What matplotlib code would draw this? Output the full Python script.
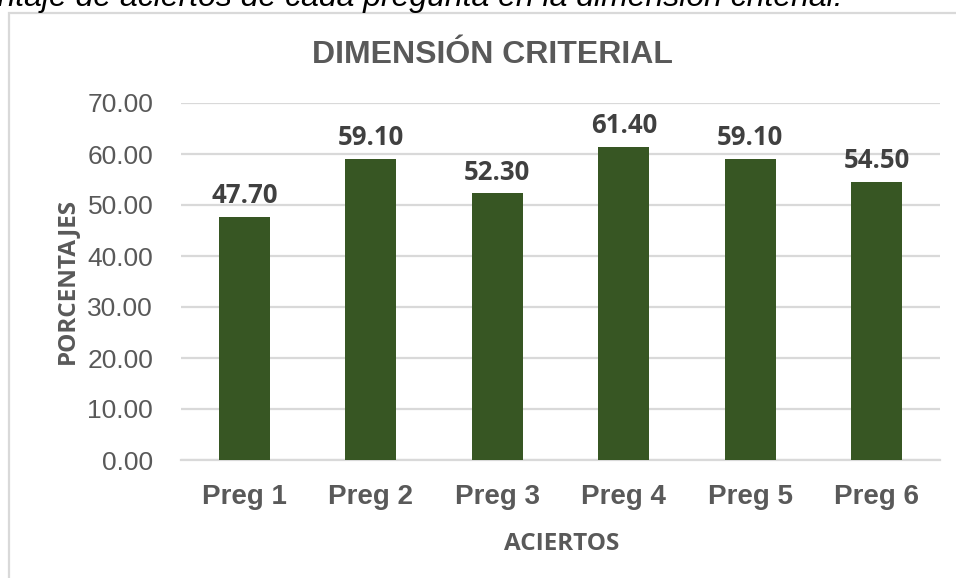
import matplotlib
matplotlib.use("Agg")
import matplotlib.pyplot as plt
from matplotlib.patches import Rectangle
from matplotlib import font_manager

categories = ["Preg 1", "Preg 2", "Preg 3", "Preg 4", "Preg 5", "Preg 6"]
values = [47.70, 59.10, 52.30, 61.40, 59.10, 54.50]
yticks = [0, 10, 20, 30, 40, 50, 60, 70]
title = "DIMENSIÓN CRITERIAL"
ylabel = "PORCENTAJES"
xlabel = "ACIERTOS"
caption = "Porcentaje de aciertos de cada pregunta en la dimensión criterial."

# choose a Calibri-like family that really has a bold face installed
bold_family = "DejaVu Sans"
for fam in ["Open Sans", "Lato", "Roboto", "Noto Sans", "Inter"]:
    if any(f.name == fam and (f.weight in ("bold", 700) or str(f.weight) == "700")
           and f.style == "normal" for f in font_manager.fontManager.ttflist):
        bold_family = fam
        break

W, H = 956, 578
fig = plt.figure(figsize=(W / 100, H / 100), dpi=100)

def fx(px):
    return px / W

def fy(py):
    return 1 - py / H

ax = fig.add_axes([fx(181), fy(460), fx(940) - fx(181), fy(103) - fy(460)])

bar_color = "#375623"
grid_color = "#d9d9d9"
tick_color = "#595959"
label_color = "#404040"

x = list(range(len(categories)))
bars = ax.bar(x, values, width=0.4, color=bar_color, zorder=3)

ax.set_xlim(-0.5, len(categories) - 0.5)
ax.set_ylim(0, 70)
ax.set_yticks(yticks)
ax.set_yticklabels([f"{v:.2f}" for v in yticks], fontsize=19,
                   fontfamily="Liberation Sans", color=tick_color)
ax.set_xticks(x)
ax.set_xticklabels(categories, fontsize=20, fontweight="bold",
                   fontfamily="Liberation Sans", color=tick_color)
ax.tick_params(axis="y", length=0, pad=20)
ax.tick_params(axis="x", length=0, pad=17)
ax.yaxis.grid(True, color=grid_color, linewidth=1.6, zorder=0)
ax.set_axisbelow(True)
for s in ["top", "right", "left"]:
    ax.spines[s].set_visible(False)
ax.spines["bottom"].set_color(grid_color)
ax.spines["bottom"].set_linewidth(1.6)

for xi, v in zip(x, values):
    ax.annotate(f"{v:.2f}", xy=(xi, v), xytext=(0, 9.9), textcoords="offset points",
                ha="center", va="baseline", fontsize=18.5, fontweight="bold",
                family=bold_family, color=label_color)

fig.text(fx(492), fy(63), title, ha="center", va="baseline", fontsize=23,
         fontweight="bold", fontfamily="Liberation Sans", color=tick_color)
fig.text(fx(66.5), fy(281), ylabel, ha="center", va="center", rotation=90,
         fontsize=17.5, fontweight="bold", family=bold_family, color=tick_color)
fig.text(fx(562), fy(544), xlabel, ha="center", va="center",
         fontsize=17.5, fontweight="bold", family=bold_family, color=tick_color)

fig.text(fx(843), fy(6), caption, ha="right", va="baseline", fontsize=23,
         style="italic", fontfamily="Liberation Sans", color="black")

fig.patches.append(Rectangle((fx(9), -0.1), 2, fy(13) + 0.1, transform=fig.transFigure,
                             fill=False, edgecolor=grid_color, linewidth=1.6))

fig.savefig("out.png", dpi=100)
